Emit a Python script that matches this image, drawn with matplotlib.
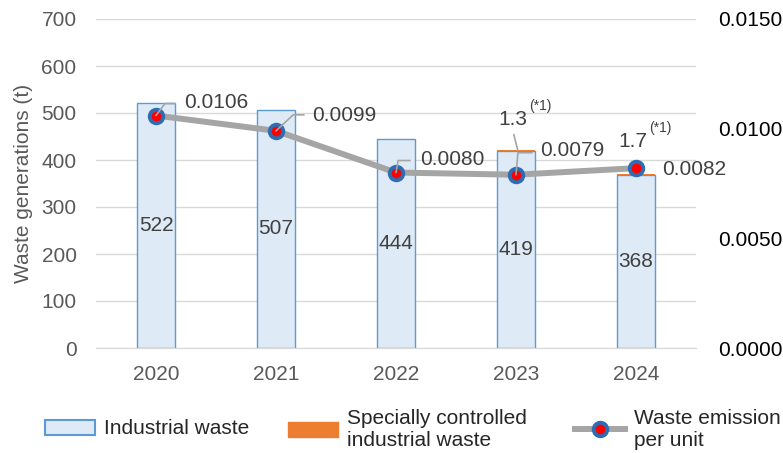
import matplotlib
matplotlib.use('Agg')
import matplotlib.pyplot as plt
from matplotlib.patches import Patch
from matplotlib.lines import Line2D
from matplotlib.ticker import FormatStrFormatter
import numpy as np

plt.rcParams['font.family'] = ['Liberation Sans', 'DejaVu Sans']

years = ['2020', '2021', '2022', '2023', '2024']
industrial = [522, 507, 444, 419, 368]
special = [0, 0, 0, 1.3, 1.7]
per_unit = [0.0106, 0.0099, 0.0080, 0.0079, 0.0082]
special_notes = {3: '1.3', 4: '1.7'}

GRAY_TXT = '#595959'
LABEL_TXT = '#404040'
LINE_GRAY = '#A5A5A5'
MARKER_BLUE = '#2E6DB4'
MARKER = dict(marker='o', markersize=9.8, markerfacecolor='red',
              markeredgecolor=MARKER_BLUE, markeredgewidth=2.75)

W, H = 783, 453
fig = plt.figure(figsize=(W / 100, H / 100), dpi=100)
ax = fig.add_axes([96 / W, 1 - 348 / H, 600 / W, 329 / H])
x = np.arange(len(years))

# stacked bars
ax.bar(x, industrial, width=0.32, color='#DEEBF7', edgecolor='#5B9BD5',
       linewidth=1, zorder=2)
ax.bar(x, special, bottom=industrial, width=0.32, color='#ED7D31', zorder=2)

ax.set_xlim(-0.5, len(years) - 0.5)
ax.set_ylim(0, 700)
ax.set_yticks(range(0, 701, 100))
ax.set_xticks(x)
ax.set_xticklabels(years)
ax.yaxis.grid(True, color='#D9D9D9', linewidth=1)
ax.set_axisbelow(True)
for s in ['top', 'left', 'right']:
    ax.spines[s].set_visible(False)
ax.spines['bottom'].set_color('#D9D9D9')
ax.tick_params(axis='both', length=0, labelsize=15, labelcolor=GRAY_TXT)
ax.tick_params(axis='y', pad=14)
ax.tick_params(axis='x', pad=12)
ax.set_ylabel('Waste generations (t)', fontsize=15, color=GRAY_TXT, labelpad=6)

# value labels in the middle of the bars
for xi, v in zip(x, industrial):
    ax.text(xi, v / 2, str(v), ha='center', va='center', fontsize=15,
            color=LABEL_TXT, zorder=3)

# emission per unit on the secondary axis
ax2 = ax.twinx()
ax2.set_ylim(0, 0.015)
ax2.set_yticks([0, 0.005, 0.010, 0.015])
ax2.yaxis.set_major_formatter(FormatStrFormatter('%.4f'))
ax2.tick_params(axis='y', length=0, labelsize=15, labelcolor='black', pad=16)
for s in ax2.spines.values():
    s.set_visible(False)

ax2.plot(x, per_unit, color=LINE_GRAY, linewidth=4.3, zorder=5, **MARKER)

# line labels: text offset (px) and leader stub end / angle
px = 0.72
text_off = [(28, 13), (36, 15), (24, 13), (24, 24), (26, -1)]
stub_end = [(19, 12), (28, 16), (14, 12), (16, 22), None]
stub_angle = [53, 43, 80, 85, None]
for i, v in enumerate(per_unit):
    tx, ty = text_off[i]
    ax2.annotate(f'{v:.4f}', xy=(x[i], v), xytext=(tx * px, ty * px),
                 textcoords='offset points', ha='left', va='center',
                 fontsize=15, color=LABEL_TXT, zorder=4)
    if stub_end[i] is not None:
        ex, ey = stub_end[i]
        ax2.annotate('', xy=(x[i], v), xytext=(ex * px, ey * px),
                     textcoords='offset points',
                     arrowprops=dict(arrowstyle='-', color=LINE_GRAY, lw=1.2,
                                     shrinkA=0, shrinkB=0,
                                     connectionstyle=f'angle,angleA=0,angleB={stub_angle[i]},rad=0'),
                     zorder=6)

# labels for the specially controlled waste
for i, lab in special_notes.items():
    top = industrial[i] + special[i]
    dy = 31 if i == 3 else 33
    ax.annotate(lab, xy=(x[i], top), xytext=(-3 * px, dy * px),
                textcoords='offset points', ha='center', va='center',
                fontsize=15, color=LABEL_TXT, zorder=6)
    ax.annotate('(*1)', xy=(x[i], top), xytext=(24 * px, (dy + 13) * px),
                textcoords='offset points', ha='center', va='center',
                fontsize=10, color=LABEL_TXT, zorder=6)
    if i == 3:
        ax.annotate('', xy=(x[i] + 0.015, top), xytext=(-4 * px, 16 * px),
                    textcoords='offset points',
                    arrowprops=dict(arrowstyle='-', color=LINE_GRAY, lw=1.2,
                                    shrinkA=0, shrinkB=0))

# legend entries placed along the bottom
legend_items = [
    (Patch(facecolor='#DEEBF7', edgecolor='#5B9BD5', linewidth=1.5),
     'Industrial waste', 45),
    (Patch(facecolor='#ED7D31', edgecolor='#ED7D31'),
     'Specially controlled\nindustrial waste', 288),
    (Line2D([], [], color=LINE_GRAY, linewidth=4.3, **MARKER),
     'Waste emission\nper unit', 575),
]
for handle, label, x0 in legend_items:
    fig.legend(handles=[handle], labels=[label], loc='center left',
               bbox_to_anchor=(x0 / W, 1 - 429 / H), frameon=False,
               borderpad=0, borderaxespad=0, fontsize=15,
               handlelength=2.4, handleheight=0.75, handletextpad=0.45,
               labelcolor='#262626')

fig.savefig('out.png', dpi=100)
plt.close(fig)
